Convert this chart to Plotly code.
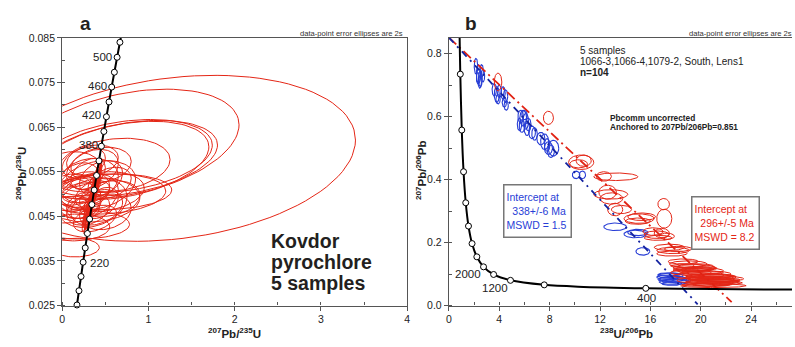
import numpy as np
import plotly.graph_objects as go

# ---------------- Panel a: Wetherill concordia (207Pb/235U vs 206Pb/238U) ----------------
# concordia nodes, ages in Ma
conc_a_age = [160, 180, 200, 220, 240, 260, 280, 300, 320, 340, 360, 380, 400,
              420, 440, 460, 480, 500, 520]
conc_a_x = [0.1707, 0.1940, 0.2177, 0.2419, 0.2666, 0.2918, 0.3175, 0.3437, 0.3705,
            0.3977, 0.4255, 0.4539, 0.4828, 0.5123, 0.5424, 0.5731, 0.6043, 0.6362, 0.6688]
conc_a_y = [0.02513, 0.02832, 0.03151, 0.03472, 0.03793, 0.04116, 0.04439, 0.04764,
            0.05089, 0.05416, 0.05743, 0.06072, 0.06402, 0.06732, 0.07064, 0.07397,
            0.07730, 0.08065, 0.08401]
conc_a_line_x = [0.1592] + conc_a_x + [0.7021]
conc_a_line_y = [0.02354] + conc_a_y + [0.08738]

# error ellipses: centre, semi-axes, correlation
wa_cx = [1.30, 0.75, 0.75, 0.70, 0.72, 0.60, 0.55, 0.50, 0.15, 0.20, 0.35,
         0.35, 0.30, 0.40, 0.25, 0.45, 0.30, 0.35, 0.20, 0.40, 0.30, 0.25, 0.45,
         0.55, 0.35, 0.30, 0.45, 0.20, 0.15, 0.50, 0.38, 0.55, 0.25, 0.45, 0.35,
         0.10, 0.12, 0.08, 0.15,
         0.30, 0.32, 0.33, 0.34, 0.35, 0.36, 0.37, 0.38, 0.39, 0.40, 0.33, 0.36,
         0.31, 0.38, 0.41, 0.29]
wa_cy = [0.0580, 0.0612, 0.0580, 0.0575, 0.0585, 0.0565, 0.0505, 0.0500, 0.0380, 0.0432, 0.0487,
         0.0555, 0.0530, 0.0520, 0.0510, 0.0505, 0.0495, 0.0480, 0.0485, 0.0470, 0.0465, 0.0475, 0.0480,
         0.0490, 0.0500, 0.0545, 0.0535, 0.0525, 0.0500, 0.0460, 0.0445, 0.0525, 0.0570, 0.0565, 0.0575,
         0.0555, 0.0510, 0.0465, 0.0425,
         0.0440, 0.0460, 0.0470, 0.0480, 0.0490, 0.0500, 0.0510, 0.0520, 0.0530, 0.0540, 0.0485, 0.0495,
         0.0475, 0.0505, 0.0550, 0.0450]
wa_a = [2.10, 1.30, 1.05, 1.00, 1.02, 0.65, 0.72, 0.70, 0.28, 0.58, 0.55,
        0.30, 0.35, 0.45, 0.30, 0.50, 0.35, 0.40, 0.25, 0.30, 0.25, 0.20, 0.20,
        0.35, 0.20, 0.20, 0.25, 0.25, 0.20, 0.30, 0.25, 0.25, 0.25, 0.35, 0.30,
        0.35, 0.30, 0.35, 0.40,
        0.05, 0.06, 0.07, 0.08, 0.09, 0.08, 0.07, 0.06, 0.05, 0.06, 0.10, 0.09,
        0.07, 0.08, 0.05, 0.06]
wa_b = [0.0186, 0.0123, 0.0085, 0.0088, 0.0082, 0.0060, 0.0040, 0.0045, 0.0021, 0.0033, 0.0050,
        0.0045, 0.0050, 0.0055, 0.0040, 0.0045, 0.0050, 0.0055, 0.0040, 0.0040, 0.0035, 0.0030, 0.0035,
        0.0040, 0.0030, 0.0035, 0.0040, 0.0045, 0.0040, 0.0040, 0.0030, 0.0035, 0.0035, 0.0040, 0.0035,
        0.0040, 0.0035, 0.0030, 0.0030,
        0.0030, 0.0040, 0.0050, 0.0060, 0.0055, 0.0050, 0.0045, 0.0050, 0.0040, 0.0035, 0.0060, 0.0055,
        0.0045, 0.0060, 0.0030, 0.0035]
wa_rho = [0.22, 0.35, 0.35, 0.35, 0.30, 0.20, 0.10, 0.15, 0.00, 0.00, 0.10,
          0.30, 0.20, 0.25, 0.20, 0.20, 0.30, 0.25, 0.20, 0.30, 0.30, 0.30, 0.40,
          0.20, 0.40, 0.40, 0.30, 0.20, 0.20, 0.20, 0.40, 0.30, 0.30, 0.20, 0.20,
          0.10, 0.10, 0.10, 0.05,
          0.92, 0.93, 0.94, 0.95, 0.94, 0.93, 0.94, 0.95, 0.92, 0.90, 0.95, 0.94,
          0.93, 0.95, 0.90, 0.92]

# ---------------- Panel b: Tera-Wasserburg (238U/206Pb vs 207Pb/206Pb) ----------------
conc_b_age = [4800, 4400, 4000, 3600, 3200, 2800, 2400, 2000, 1600, 1200, 800, 400]
conc_b_x = [0.9045, 1.0214, 1.1631, 1.3371, 1.5557, 1.8382, 2.2168, 2.749, 3.550, 4.888, 7.568, 15.63]
conc_b_y = [0.7347, 0.5572, 0.4250, 0.3264, 0.2524, 0.1968, 0.1548, 0.1230, 0.0987, 0.0801, 0.0658, 0.0547]
conc_b_line_x = [0.806, 0.8533] + conc_b_x[:-1] + [10.252, 15.63, 20.99, 25.29, 27.53]
conc_b_line_y = [0.948, 0.8453] + conc_b_y[:-1] + [0.0599, 0.0547, 0.0523, 0.0512, 0.0508]

blue_cx = [2.15, 2.35, 2.50, 2.60, 2.45, 2.70, 2.30,
           3.60, 3.80, 4.00, 4.30, 4.50, 3.90, 4.55, 4.40,
           5.70, 5.90, 6.10, 5.80, 6.30, 6.20, 6.60, 5.60, 6.00, 6.80,
           7.30, 7.60, 7.90, 8.10, 8.30, 7.80,
           10.1, 10.6,
           13.2, 14.8, 15.0, 15.4,
           17.6, 17.8, 17.9, 17.4, 18.2, 17.7, 17.5, 18.0, 17.3]
blue_cy = [0.760, 0.735, 0.720, 0.745, 0.710, 0.730, 0.722,
           0.685, 0.670, 0.680, 0.675, 0.665, 0.655, 0.635, 0.645,
           0.600, 0.595, 0.585, 0.570, 0.575, 0.560, 0.550, 0.575, 0.605, 0.545,
           0.530, 0.520, 0.500, 0.490, 0.500, 0.510,
           0.415, 0.415,
           0.250, 0.227, 0.232, 0.172,
           0.095, 0.085, 0.075, 0.090, 0.080, 0.070, 0.099, 0.078, 0.083]
blue_sx = [0.14, 0.17, 0.15, 0.14, 0.13, 0.14, 0.12,
           0.17, 0.20, 0.17, 0.17, 0.17, 0.17, 0.17, 0.17,
           0.22, 0.27, 0.22, 0.22, 0.22, 0.22, 0.27, 0.17, 0.22, 0.22,
           0.32, 0.32, 0.32, 0.27, 0.42, 0.22,
           0.30, 0.25,
           0.90, 0.90, 0.80, 0.55,
           1.00, 1.10, 1.20, 0.90, 1.00, 0.80, 0.90, 1.10, 0.70]
blue_sy = [0.025, 0.030, 0.025, 0.020, 0.020, 0.020, 0.018,
           0.020, 0.025, 0.020, 0.020, 0.020, 0.015, 0.015, 0.015,
           0.020, 0.025, 0.025, 0.020, 0.020, 0.020, 0.020, 0.020, 0.015, 0.020,
           0.020, 0.025, 0.020, 0.020, 0.025, 0.020,
           0.012, 0.012,
           0.012, 0.012, 0.010, 0.012,
           0.008, 0.008, 0.008, 0.007, 0.008, 0.006, 0.005, 0.006, 0.006]

red_cx = [3.90, 7.90, 10.5, 10.7, 10.3, 13.25, 12.3, 12.6, 12.85, 12.9, 13.2, 13.7,
          15.1, 15.3, 15.0, 17.05, 17.1, 16.2, 16.5, 16.9, 16.6, 17.3,
          17.5, 17.8, 17.7, 18.2, 19.0, 19.5, 20.0, 20.5, 20.8, 21.2, 21.0, 20.6,
          19.8, 20.3, 21.5, 19.2, 20.2, 21.0, 21.0, 18.6, 19.6,
          19.4, 20.1, 20.7, 21.3, 21.8, 20.4, 19.9, 21.1, 20.9, 18.9, 19.3, 20.6]
red_cy = [0.710, 0.596, 0.455, 0.460, 0.450, 0.409, 0.410, 0.360, 0.353, 0.340, 0.305, 0.305,
          0.276, 0.282, 0.268, 0.322, 0.276, 0.235, 0.225, 0.230, 0.215, 0.220,
          0.185, 0.175, 0.165, 0.180, 0.132, 0.120, 0.110, 0.100, 0.090, 0.085, 0.075, 0.070,
          0.095, 0.080, 0.078, 0.105, 0.088, 0.068, 0.063, 0.140, 0.125,
          0.115, 0.104, 0.094, 0.082, 0.072, 0.066, 0.118, 0.092, 0.077, 0.126, 0.112, 0.086]
red_sx = [0.30, 0.40, 1.00, 0.60, 0.70, 1.75, 0.60, 0.70, 1.35, 0.90, 0.60, 0.80,
          1.20, 1.10, 1.00, 0.46, 0.60, 0.80, 1.00, 0.60, 1.10, 0.60,
          1.20, 1.30, 1.20, 1.10, 1.50, 1.70, 1.80, 1.90, 2.00, 2.20, 2.00, 1.80,
          2.00, 2.20, 1.60, 1.60, 1.40, 1.50, 2.60, 1.20, 1.40,
          1.60, 1.70, 1.90, 1.80, 1.50, 1.90, 1.40, 1.70, 2.10, 1.30, 1.50, 1.80]
red_sy = [0.028, 0.021, 0.023, 0.018, 0.013, 0.012, 0.015, 0.022, 0.015, 0.018, 0.020, 0.013,
          0.015, 0.012, 0.010, 0.018, 0.030, 0.012, 0.012, 0.015, 0.008, 0.010,
          0.010, 0.010, 0.008, 0.008, 0.010, 0.010, 0.010, 0.010, 0.010, 0.009, 0.008, 0.008,
          0.010, 0.010, 0.007, 0.009, 0.007, 0.007, 0.006, 0.008, 0.008,
          0.006, 0.006, 0.007, 0.006, 0.005, 0.005, 0.006, 0.006, 0.005, 0.006, 0.005, 0.006]

# regression lines anchored at 207Pb/206Pb = 0.851
red_line_x = [0.0, 22.45]
red_line_y = [0.851, 0.011]
blue_line_x = [0.0, 19.75]
blue_line_y = [0.851, 0.004]

RED = "rgb(228,38,22)"
BLUE = "rgb(40,62,214)"
FONT = "Liberation Sans, Arial, sans-serif"
W, H = 795, 347


def ellipse_traces(cx, cy, sx, sy, rho=None, n=100):
    t = np.linspace(0, 2 * np.pi, n)
    xs, ys = [], []
    for i in range(len(cx)):
        r = 0.0 if rho is None else rho[i]
        ex = cx[i] + sx[i] * np.cos(t)
        ey = cy[i] + sy[i] * (r * np.cos(t) + np.sqrt(1 - r * r) * np.sin(t))
        xs += list(ex) + [None]
        ys += list(ey) + [None]
    return xs, ys


fig = go.Figure()

# panel a ellipses
ex, ey = ellipse_traces(wa_cx, wa_cy, wa_a, wa_b, wa_rho)
fig.add_trace(go.Scatter(x=ex, y=ey, mode="lines", line=dict(color=RED, width=1),
                         xaxis="x", yaxis="y", hoverinfo="skip"))
# panel a concordia
fig.add_trace(go.Scatter(x=conc_a_line_x, y=conc_a_line_y, mode="lines",
                         line=dict(color="black", width=2, shape="spline"),
                         xaxis="x", yaxis="y", hoverinfo="skip"))
fig.add_trace(go.Scatter(x=conc_a_x, y=conc_a_y, mode="markers", text=conc_a_age,
                         marker=dict(size=6, color="white", line=dict(color="black", width=1)),
                         cliponaxis=False, xaxis="x", yaxis="y"))

# panel b ellipses
bx, by = ellipse_traces(blue_cx, blue_cy, blue_sx, blue_sy)
fig.add_trace(go.Scatter(x=bx, y=by, mode="lines", line=dict(color=BLUE, width=1.1),
                         xaxis="x2", yaxis="y2", hoverinfo="skip"))
rx, ry = ellipse_traces(red_cx, red_cy, red_sx, red_sy)
fig.add_trace(go.Scatter(x=rx, y=ry, mode="lines", line=dict(color=RED, width=1),
                         xaxis="x2", yaxis="y2", hoverinfo="skip"))
# regression lines
fig.add_trace(go.Scatter(x=red_line_x, y=red_line_y, mode="lines",
                         line=dict(color="rgb(225,35,20)", width=1.8, dash="10px,4px,2px,4px"),
                         xaxis="x2", yaxis="y2"))
fig.add_trace(go.Scatter(x=blue_line_x, y=blue_line_y, mode="lines",
                         line=dict(color="rgb(20,35,160)", width=1.8, dash="7px,5px,2px,5px"),
                         xaxis="x2", yaxis="y2"))
# panel b concordia
fig.add_trace(go.Scatter(x=conc_b_line_x, y=conc_b_line_y, mode="lines",
                         line=dict(color="black", width=2, shape="spline", smoothing=0.8),
                         xaxis="x2", yaxis="y2", hoverinfo="skip"))
fig.add_trace(go.Scatter(x=conc_b_x, y=conc_b_y, mode="markers", text=conc_b_age,
                         marker=dict(size=6, color="white", line=dict(color="black", width=1)),
                         xaxis="x2", yaxis="y2"))

axis_common = dict(showgrid=False, zeroline=False, showline=True, linecolor="#555",
                   linewidth=1.3, ticks="outside", ticklen=4, tickcolor="#555", tickwidth=1,
                   tickfont=dict(family=FONT, size=10.5, color="#222"))

fig.update_layout(
    width=W, height=H, margin=dict(l=0, r=0, t=0, b=0),
    paper_bgcolor="white", plot_bgcolor="white", showlegend=False,
    xaxis=dict(domain=[59.7 / W, 407.3 / W], range=[0, 4], tick0=0, dtick=1, mirror=True,
               minor=dict(ticks="inside", dtick=0.5, tick0=0, ticklen=3, tickcolor="#555"),
               anchor="y", **axis_common),
    yaxis=dict(domain=[1 - 310.3 / H, 1 - 33 / H], range=[0.025, 0.085], tick0=0.025, dtick=0.01,
               tickformat=".3f", mirror=True,
               minor=dict(ticks="inside", dtick=0.005, tick0=0.025, ticklen=3, tickcolor="#555"),
               anchor="x", **axis_common),
    xaxis2=dict(domain=[449.3 / W, 1.0], range=[0, 27.24], tick0=0, dtick=4, mirror=True,
                minor=dict(ticks="inside", dtick=2, tick0=0, ticklen=3, tickcolor="#555"),
                anchor="y2", **axis_common),
    yaxis2=dict(domain=[1 - 310.3 / H, 1 - 33 / H], range=[0, 0.85], tick0=0, dtick=0.2,
                tickformat=".1f",
                minor=dict(ticks="inside", dtick=0.1, tick0=0, ticklen=3, tickcolor="#555"),
                anchor="x2", **axis_common),
)


def paper_note(text, px, py, size, **kw):
    base = dict(text=text, x=px / W, y=1 - py / H, xref="paper", yref="paper",
                xanchor=kw.pop("xanchor", "center"), yanchor="middle",
                showarrow=False, font=dict(family=FONT, size=size, color=kw.pop("color", "#222")))
    base.update(kw)
    fig.add_annotation(**base)


# panel letters and axis titles
paper_note("<b>a</b>", 83, 18, 19, color="#231f20")
paper_note("<b>b</b>", 472, 18, 19, color="#231f20")
paper_note("data-point error ellipses are 2s", 405, 28, 7.6, xanchor="right", color="#333")
paper_note("data-point error ellipses are 2s", 688.7, 28, 7.6, xanchor="left", color="#333")
paper_note("<b><sup>207</sup>Pb/<sup>235</sup>U</b>", 233, 339, 11.5)
paper_note("<b><sup>238</sup>U/<sup>206</sup>Pb</b>", 628, 339, 11.5)
paper_note("<b><sup>206</sup>Pb/<sup>238</sup>U</b>", 18, 173, 11.5, textangle=-90)
paper_note("<b><sup>207</sup>Pb/<sup>206</sup>Pb</b>", 421, 170, 11.5, textangle=-90)


def data_note(text, x, y, size, axes="", **kw):
    base = dict(text=text, x=x, y=y, xref="x" + axes, yref="y" + axes, showarrow=False,
                yanchor="middle",
                font=dict(family=FONT, size=size, color=kw.pop("color", "#222")))
    base.update(kw)
    fig.add_annotation(**base)


# concordia age labels, panel a
for lab, lx, ly, anchor in [("500", 0.605, 0.0808, "right"), ("460", 0.540, 0.0741, "right"),
                            ("420", 0.478, 0.0678, "right"), ("380", 0.432, 0.0610, "right"),
                            ("220", 0.295, 0.0346, "left")]:
    data_note(lab, lx, ly, 11.5, xanchor=anchor)

# sample name, panel a
for txt, ly in [("Kovdor", 0.03956), ("pyrochlore", 0.03476), ("5 samples", 0.02999)]:
    data_note("<b>" + txt + "</b>", 2.40, ly, 19.5, xanchor="left", color="#231f20")

# concordia age labels, panel b
data_note("2000", 1.53, 0.0998, 11.5, axes="2")
data_note("1200", 3.69, 0.055, 11.5, axes="2")
data_note("400", 15.71, 0.0245, 11.5, axes="2")

# sample description, panel b
data_note("5 samples", 10.22, 0.809, 10, axes="2", xanchor="left")
data_note("1066-3,1066-4,1079-2, South, Lens1", 10.22, 0.775, 10, axes="2", xanchor="left")
data_note("<b>n=104</b>", 10.22, 0.740, 10, axes="2", xanchor="left")
data_note("<b>Pbcomm uncorrected</b>", 12.66, 0.596, 8.3, axes="2", xanchor="left")
data_note("<b>Anchored to 207Pb/206Pb=0.851</b>", 12.66, 0.567, 8.3, axes="2", xanchor="left")

# intercept boxes
NB = "\u00a0"
data_note("Intercept at<br>" + NB * 2 + "338+/-6 Ma<br>MSWD = 1.5", 7.01, 0.300, 10.5, axes="2",
          color=BLUE, align="left", bordercolor="#777", borderwidth=1.5, borderpad=2,
          bgcolor="white", width=62, height=47)
data_note("Intercept at<br>" + NB * 2 + "296+/-5 Ma<br>MSWD = 8.2", 21.95, 0.261, 10.5, axes="2",
          color=RED, align="left", bordercolor="#777", borderwidth=1.5, borderpad=2,
          bgcolor="white", width=62, height=47)

fig.write_html("out.html")
